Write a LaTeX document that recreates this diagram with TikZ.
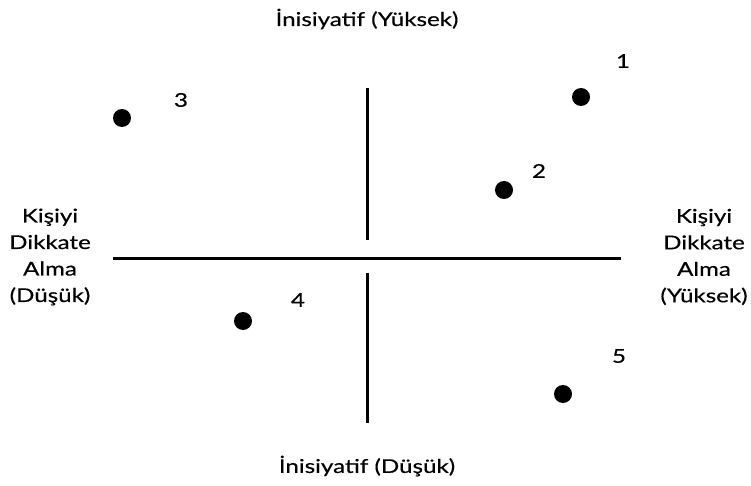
\documentclass[tikz,border=0pt]{standalone}
\usepackage{fontspec}
\setmainfont{Lato}[FakeStretch=1.27,FakeBold=0.4]
\usepackage{tikz}

\begin{document}
\begin{tikzpicture}
  [x=1pt,y=-1pt,auto=center,every node/.style={font=\fontsize{19}{26.5}\selectfont},
   dot/.style={circle,fill,inner sep=0pt,minimum size=18pt},
   axis/.style={line width=3pt}]
  \useasboundingbox (0,0) rectangle (751,486);

  \node (top) at (367,19) {İnisiyatif (Yüksek)};
  \node (bot) at (367,466) {İnisiyatif (Düşük)};
  \node [align=center] (left) at (50,257) {Kişiyi\\Dikkate\\Alma\\(Düşük)};
  \node [align=center] (right) at (704,257) {Kişiyi\\Dikkate\\Alma\\(Yüksek)};

  \coordinate (hl) at (113,258);
  \coordinate (hr) at (621,258);
  \coordinate (vt1) at (367,88);
  \coordinate (vt2) at (367,240);
  \coordinate (vb1) at (367,273);
  \coordinate (vb2) at (367,423);

  \foreach \from/\to in {hl/hr,vt1/vt2,vb1/vb2}
    \draw [axis] (\from) -- (\to);

  \node [dot] (p1) at (581,97) {};
  \node [dot] (p2) at (504,190) {};
  \node [dot] (p3) at (122,118) {};
  \node [dot] (p4) at (243,321) {};
  \node [dot] (p5) at (563,394) {};

  \node (l1) at (623,61) {1};
  \node (l2) at (539,171) {2};
  \node (l3) at (181,100) {3};
  \node (l4) at (298,300) {4};
  \node (l5) at (619,356) {5};

\end{tikzpicture}
\end{document}
